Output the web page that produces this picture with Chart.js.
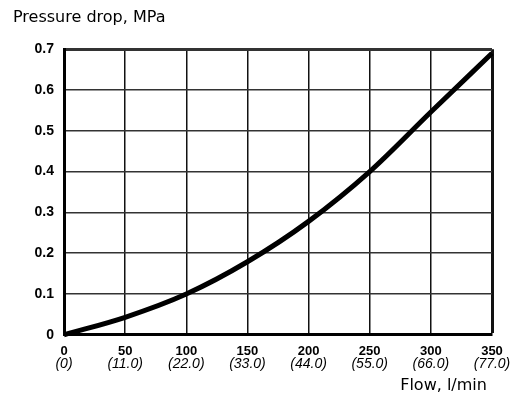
<!DOCTYPE html>
<html>
<head>
<meta charset="utf-8">
<script src="https://cdn.jsdelivr.net/npm/chart.js@4"></script>
<style>
  html, body { margin: 0; padding: 0; background: #fff; }
  #wrap { width: 518px; height: 400px; }
</style>
</head>
<body>
<div id="wrap"><canvas id="pressureChart"></canvas></div>
<script>
// flow in l/min and pressure drop in MPa
const flow = [0, 50, 100, 150, 200, 250, 300, 350];
const pressureDrop = [0, 0.043, 0.1, 0.179, 0.278, 0.4, 0.546, 0.69];

// tick labels
const flowTicks = ["0", "50", "100", "150", "200", "250", "300", "350"];
const flowAltTicks = ["(0)", "(11.0)", "(22.0)", "(33.0)", "(44.0)", "(55.0)", "(66.0)", "(77.0)"];
const pressureTicks = ["0", "0.1", "0.2", "0.3", "0.4", "0.5", "0.6", "0.7"];

const arial = "'Liberation Sans', Arial, sans-serif";
const verdana = "'DejaVu Sans', Verdana, sans-serif";

const edgeWidth = (max) => (ctx) => (ctx.tick && Math.abs(ctx.tick.value - max) < 1e-6 ? 3 : 1.5);

new Chart(document.getElementById("pressureChart"), {
  type: "line",
  data: {
    datasets: [{
      data: flow.map((f, i) => ({ x: f, y: pressureDrop[i] })),
      borderColor: "#000",
      borderWidth: 5,
      pointRadius: 0,
      cubicInterpolationMode: "monotone",
      clip: 4
    }]
  },
  options: {
    responsive: true,
    maintainAspectRatio: false,
    animation: false,
    layout: { padding: { left: 13, right: 26, top: 0, bottom: 0 } },
    plugins: {
      legend: { display: false },
      tooltip: { enabled: false },
      title: {
        display: true,
        text: "Pressure drop, MPa",
        align: "start",
        color: "#000",
        font: { family: verdana, size: 16, weight: "normal" },
        padding: { top: 8, bottom: 22 }
      },
      subtitle: {
        display: true,
        position: "bottom",
        text: "Flow, l/min ",
        align: "end",
        color: "#000",
        font: { family: verdana, size: 16, weight: "normal" },
        padding: { top: 3, bottom: 5 }
      }
    },
    scales: {
      x: {
        type: "linear",
        min: 0,
        max: 350,
        ticks: {
          stepSize: 50,
          padding: 9,
          color: "#000",
          font: { family: arial, size: 13, weight: "bold" },
          callback: (v, i) => flowTicks[i]
        },
        grid: { color: "#111", lineWidth: edgeWidth(350), drawTicks: false },
        border: { color: "#000", width: 3 },
        afterFit: (axis) => { axis.height = 21; }
      },
      x2: {
        type: "linear",
        position: "bottom",
        min: 0,
        max: 350,
        ticks: {
          stepSize: 50,
          padding: 0,
          color: "#000",
          font: { family: arial, size: 14, style: "italic" },
          callback: (v, i) => flowAltTicks[i]
        },
        grid: { display: false, drawTicks: false, tickLength: 0 },
        border: { display: false },
        afterFit: (axis) => { axis.height = 17; }
      },
      y: {
        min: 0,
        max: 0.7,
        ticks: {
          stepSize: 0.1,
          padding: 10,
          color: "#000",
          font: { family: arial, size: 14, weight: "bold" },
          callback: (v, i) => pressureTicks[i]
        },
        grid: { color: "#333", lineWidth: edgeWidth(0.7), drawTicks: false },
        border: { color: "#000", width: 3 },
        afterFit: (axis) => { axis.width = 51; }
      }
    }
  }
});
</script>
</body>
</html>
